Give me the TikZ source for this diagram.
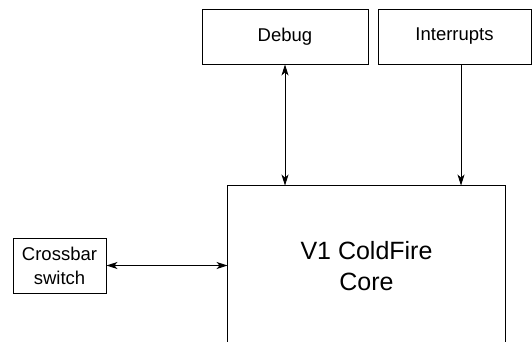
\documentclass[tikz,border=0pt]{standalone}
\usepackage{fontspec}
\setmainfont{Liberation Sans}
\usetikzlibrary{arrows.meta}

\begin{document}
\begin{tikzpicture}[x=1pt, y=-1pt, line width=0.9pt, >={Stealth[length=11pt, width=7pt, inset=3pt]},
  block/.style={draw, inner sep=0pt, align=center, minimum height=55pt, font=\fontsize{18.5}{24}\selectfont}]
  \useasboundingbox (0,0) rectangle (532,341);
  \node[block, minimum width=166pt] (debug) at (285,36.5) {Debug};
  \node[block, minimum width=153pt] (intr) at (454.5,36.5) {Interrupts};
  \node[block, minimum width=93pt] (xbar) at (59.5,265.5) {Crossbar\\switch};
  \node[minimum width=277pt, minimum height=160pt, align=center, font=\fontsize{25}{31}\selectfont] (core) at (366.5,266) {V1 ColdFire\\Core};
  % core box runs off the bottom edge
  \draw (core.south west) -- (core.north west) -- (core.north east) -- (core.south east);
  \draw[<->] (debug.south) -- (debug.south |- core.north);
  \draw[->] ([xshift=6.5pt]intr.south) -- ([xshift=6.5pt]intr.south |- core.north);
  \draw[<->] (xbar.east) -- (xbar.east -| core.west);
\end{tikzpicture}
\end{document}
